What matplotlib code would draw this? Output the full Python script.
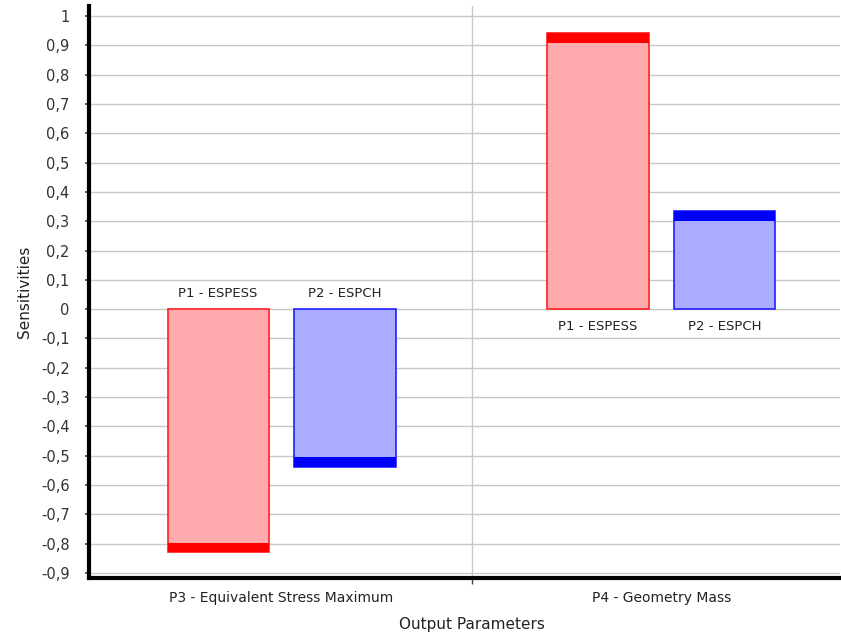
import matplotlib

matplotlib.use("Agg")
import matplotlib.pyplot as plt
from matplotlib.ticker import FixedLocator, FuncFormatter, MultipleLocator

# sensitivities of each output parameter to the input parameters
outputs = ["P3 - Equivalent Stress Maximum", "P4 - Geometry Mass"]
inputs = ["P1 - ESPESS", "P2 - ESPCH"]
espess = [-0.83, 0.941]
espch = [-0.537, 0.335]

fills = ["#ffaaad", "#aaadff"]
edges = ["#ff2020", "#2020ff"]
bands = ["#ff0000", "#0000ff"]

fig = plt.figure(figsize=(8.41, 6.39), dpi=100)
ax = fig.add_axes([0.1058, 0.0955, 0.8930, 0.8951])

width = 0.266
offsets = [-0.167, 0.167]
band = 0.034

for k, values in enumerate([espess, espch]):
    for i, v in enumerate(values):
        x = i + offsets[k]
        ax.bar(x, v, width=width, color=fills[k], edgecolor=edges[k],
               linewidth=1.2, zorder=3)
        sign = 1 if v > 0 else -1
        ax.bar(x, band * sign, bottom=v - band * sign, width=width,
               color=bands[k], linewidth=0, zorder=4)
        if v < 0:
            ax.text(x, 0.055, inputs[k], ha="center", va="center",
                    fontsize=9.5, color="#222222")
        else:
            ax.text(x, -0.06, inputs[k], ha="center", va="center",
                    fontsize=9.5, color="#222222")

ax.set_xlim(-0.507, 1.47)
ax.set_ylim(-0.917, 1.034)

ax.yaxis.set_major_locator(MultipleLocator(0.1))
ax.yaxis.set_major_formatter(
    FuncFormatter(lambda v, _: ("%g" % round(v, 1)).replace(".", ","))
)
ax.xaxis.set_major_locator(FixedLocator([0.5]))
ax.xaxis.set_major_formatter(FuncFormatter(lambda v, _: ""))
for i, name in enumerate(outputs):
    ax.text(i, -0.985, name, ha="center", va="center", fontsize=10,
            color="#222222")

ax.grid(True, color="#c8c8c8", linewidth=1.0, zorder=0)
ax.set_axisbelow(True)

for side in ["top", "right"]:
    ax.spines[side].set_visible(False)
ax.spines["left"].set_linewidth(3)
ax.spines["bottom"].set_linewidth(3)

ax.tick_params(axis="y", length=3, width=1.2, color="#444444", pad=11,
               labelsize=10.5, labelcolor="#333333")
ax.tick_params(axis="x", length=4, width=1, color="#444444", pad=2)

ax.set_ylabel("Sensitivities", fontsize=11, color="#222222", labelpad=6)
ax.text(0.5, -1.075, "Output Parameters", ha="center", va="center",
        fontsize=11, color="#222222")

fig.savefig("out.png", dpi=100)
